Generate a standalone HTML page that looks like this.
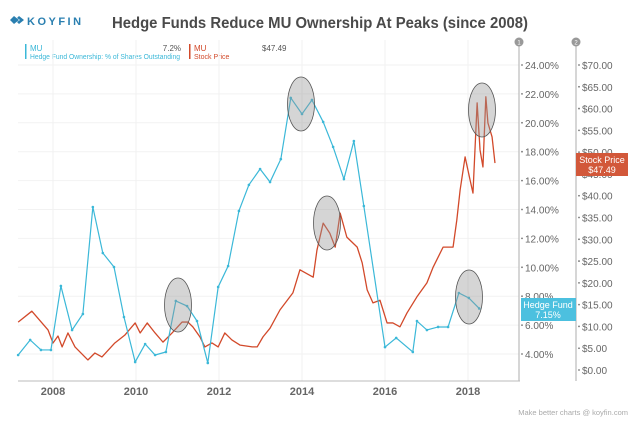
<!DOCTYPE html>
<html><head><meta charset="utf-8">
<style>
body{margin:0;background:#fff;font-family:"Liberation Sans",sans-serif;}
svg{display:block}
text{font-family:"Liberation Sans",sans-serif}
</style></head>
<body>
<svg id="chart" width="640" height="427" viewBox="0 0 640 427">
<g>
<path d="M14 16 l5 4 -5 4 -4 -4z M19 16 l5 4 -5 4 -2 -2 3 -2 -3 -2z" fill="#2a7fb0" stroke="none"/>
<text x="27" y="25" font-size="11" font-weight="bold" fill="#2a7fb0" letter-spacing="2.5">KOYFIN</text>
</g>
<text x="112" y="28" font-size="16" font-weight="bold" fill="#4a4a4a" textLength="416" lengthAdjust="spacingAndGlyphs">Hedge Funds Reduce MU Ownership At Peaks (since 2008)</text>
<g>
<rect x="25" y="44" width="1.5" height="15" fill="#3bb8d8"/>
<text x="30" y="51" font-size="8" fill="#3bb8d8">MU</text>
<text x="30" y="59" font-size="7" fill="#3bb8d8" textLength="150" lengthAdjust="spacingAndGlyphs">Hedge Fund Ownership: % of Shares Outstanding</text>
<text x="181" y="51" font-size="8" fill="#555" text-anchor="end">7.2%</text>
<rect x="189" y="44" width="1.5" height="15" fill="#d2492a"/>
<text x="194" y="51" font-size="8" fill="#d2492a">MU</text>
<text x="194" y="59" font-size="7" fill="#d2492a">Stock Price</text>
<text x="262" y="51" font-size="8" fill="#555">$47.49</text>
</g>
<g id="grid"></g>
<g id="axes"></g>
<g id="series"></g>
<g id="notes"></g>
<text x="628" y="415" text-anchor="end" font-size="7.5" fill="#aaa">Make better charts @ koyfin.com</text>
</svg>
<script>
const hfYears=[2007.16,2007.45,2007.71,2007.95,2008.19,2008.46,2008.72,2008.96,2009.20,2009.47,2009.71,2009.98,2010.22,2010.46,2010.72,2010.96,2011.23,2011.47,2011.73,2011.98,2012.22,2012.48,2012.72,2012.99,2013.23,2013.49,2013.73,2014.00,2014.24,2014.51,2014.75,2015.01,2015.25,2015.49,2016.00,2016.27,2016.67,2016.77,2017.01,2017.28,2017.52,2017.78,2018.02,2018.27];
const hfValues=[3.93,4.97,4.28,4.28,8.71,5.66,6.77,14.17,10.99,10.02,6.56,3.45,4.69,3.93,4.14,7.67,7.32,6.28,3.38,8.64,10.09,13.90,15.70,16.80,15.90,17.49,21.72,20.61,21.58,20.06,18.33,16.11,18.74,14.24,4.48,5.11,4.14,6.28,5.66,5.87,5.87,8.22,7.88,7.15];
const pxYears=[2007.16,2007.49,2007.88,2008.00,2008.12,2008.22,2008.36,2008.53,2008.84,2009.01,2009.18,2009.49,2009.73,2009.98,2010.10,2010.27,2010.46,2010.65,2010.87,2011.11,2011.25,2011.37,2011.54,2011.66,2011.83,2011.98,2012.14,2012.31,2012.51,2012.80,2012.92,2013.06,2013.23,2013.47,2013.78,2013.95,2014.27,2014.36,2014.51,2014.67,2014.80,2014.92,2015.08,2015.33,2015.45,2015.57,2015.71,2015.88,2016.05,2016.19,2016.36,2016.53,2016.77,2017.01,2017.16,2017.40,2017.64,2017.73,2017.81,2017.93,2018.05,2018.12,2018.22,2018.29,2018.36,2018.43,2018.48,2018.58,2018.65];
const pxValues=[11,13.5,9.2,6.2,7.8,5.3,8.5,5.3,2.3,3.9,3,6.2,8,10.8,8.5,10.8,8.5,6.4,8.5,11,11,9.9,7.6,5.3,6.2,5.3,8.5,6.9,5.7,5.3,5.3,7.6,9.6,13.8,17.7,23,21.3,27.5,33.7,31.4,28.2,36,30.5,28.2,24.6,18.4,15.4,16,10.8,10.8,9.9,13.1,16.8,20,23.6,28.2,28.2,34.4,41.3,48.9,43.6,40.6,61.3,50.5,46.6,62.7,56.7,53.5,47.5];
const xTicks=[2008,2010,2012,2014,2016,2018];
const pctTicks=[4,6,8,10,12,14,16,18,20,22,24];
const priceTicks=[0,5,10,15,20,25,30,35,40,45,50,55,60,65,70];
const NS="http://www.w3.org/2000/svg";
const X=y=>53+(y-2008)*41.5;
const YP=v=>65+(24-v)*14.45;
const YD=v=>370-v*4.357;
function mk(tag,attrs,parent){const e=document.createElementNS(NS,tag);for(const k in attrs)e.setAttribute(k,attrs[k]);parent.appendChild(e);return e;}
const grid=document.getElementById('grid'),axes=document.getElementById('axes'),series=document.getElementById('series'),notes=document.getElementById('notes');
xTicks.forEach(t=>{
 const l=mk('line',{x1:X(t),x2:X(t),y1:40,y2:381,stroke:'#f0f0f0'},grid);
 
 
 const tx=mk('text',{x:X(t),y:395,'text-anchor':'middle','font-size':11,'font-weight':'bold',fill:'#666'},axes);
 tx.textContent=t;
 
 
});
pctTicks.forEach(t=>{
 const l=mk('line',{x1:18,x2:519,y1:YP(t),y2:YP(t),stroke:'#f2f2f2'},grid);
 
 
 mk('circle',{cx:522,cy:YP(t),r:0.9,fill:'#777'},axes);
 const tx=mk('text',{x:525,y:YP(t)+4,'font-size':10,fill:'#666'},axes);
 tx.textContent=t.toFixed(2)+'%';
 
 
});
priceTicks.forEach(t=>{
 mk('circle',{cx:579,cy:YD(t),r:0.9,fill:'#777'},axes);
 const tx=mk('text',{x:582,y:YD(t)+4,'font-size':10,fill:'#666'},axes);
 tx.textContent='$'+t.toFixed(2);
 
 
});
const xa=mk('line',{x1:18,x2:520,y1:381,y2:381,stroke:'#bbb'},axes);


[[519,'1','y1-axis'],[576,'2','y2-axis']].forEach(a=>{
 const l=mk('line',{x1:a[0],x2:a[0],y1:42,y2:381,stroke:'#bbb','stroke-width':1.2},axes);
 
 
 const c=mk('circle',{cx:a[0],cy:42,r:4.5,fill:'#999'},axes);
 
 
 const t=mk('text',{x:a[0],y:44.5,'text-anchor':'middle','font-size':6,fill:'#fff'},axes);
 t.textContent=a[1];
});
const pp=mk('polyline',{points:pxYears.map((y,i)=>X(y)+','+YD(pxValues[i])).join(' '),fill:'none',stroke:'#d2492a','stroke-width':1.3,'stroke-linejoin':'round'},series);


const hp=mk('polyline',{points:hfYears.map((y,i)=>X(y)+','+YP(hfValues[i])).join(' '),fill:'none',stroke:'#3bb8d8','stroke-width':1.2},series);


hfYears.forEach((y,i)=>{
 const c=mk('circle',{cx:X(y),cy:YP(hfValues[i]),r:1.3,fill:'#3bb8d8'},series);
 
 
});
[[178,305],[301,104],[327,223],[482,110],[469,297]].forEach(p=>{
 const e=mk('ellipse',{cx:p[0],cy:p[1],rx:13.5,ry:27,fill:'rgba(150,150,150,0.4)',stroke:'#555','stroke-width':0.8},notes);
 
 
});
const sb=mk('rect',{x:576,y:153,width:52,height:23,fill:'#d2583a'},notes);


let t=mk('text',{x:602,y:163,'text-anchor':'middle','font-size':9,fill:'#fff'},notes);t.textContent='Stock Price';
t=mk('text',{x:602,y:173,'text-anchor':'middle','font-size':9,fill:'#fff'},notes);t.textContent='$47.49';
const hb=mk('rect',{x:521,y:298,width:55,height:23,fill:'#4cc0df'},notes);


t=mk('text',{x:548,y:308,'text-anchor':'middle','font-size':9,fill:'#fff'},notes);t.textContent='Hedge Fund';
t=mk('text',{x:548,y:318,'text-anchor':'middle','font-size':9,fill:'#fff'},notes);t.textContent='7.15%';
</script>
</body></html>
